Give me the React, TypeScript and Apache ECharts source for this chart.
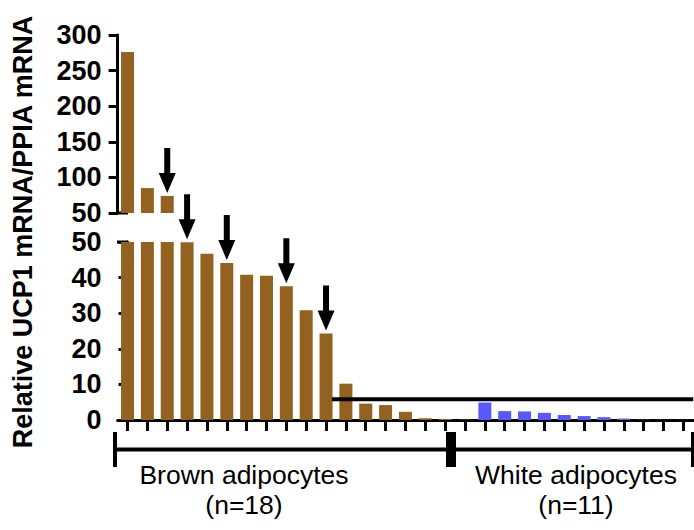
import React, { useEffect, useRef } from "react";
import * as echarts from "echarts";

// ---- data ----
const brownValues = [276, 85, 74, 49.9, 46.7, 44.1, 40.8, 40.5, 37.6, 30.8, 24.3, 10.2, 4.6, 4.2, 2.3, 0.5, 0.3, 0.1];
const whiteValues = [4.9, 2.5, 2.4, 2.0, 1.4, 1.1, 0.8, 0.4, 0.1, 0.05, 0.05];
const categories = [
  ...brownValues.map((_, i) => `B${i + 1}`),
  ...whiteValues.map((_, i) => `W${i + 1}`),
];
const upperRange = [50, 300];
const upperInterval = 50;
const lowerRange = [0, 50];
const lowerInterval = 10;
const arrowBars = [2, 3, 5, 8, 10];
const thresholdValue = 5.8;
const thresholdFrom = 10.3;
const thresholdTo = 28.5;
const groupLabels = ["Brown adipocytes\n(n=18)", "White adipocytes\n(n=11)"];
const yTitle = "Relative UCP1 mRNA/PPIA mRNA";

const BROWN = "#936220";
const BLUE = "#5858FF";
const FONT = '"Liberation Sans", Arial, sans-serif';

const ARROW = "path://M5.5,0L11.5,0L11.5,25L17,25L8.5,45L0,25L5.5,25Z";

export default function App() {
  const ref = useRef<HTMLDivElement>(null);
  useEffect(() => {
    if (!ref.current) return;
    const chart = echarts.init(ref.current, null, { renderer: "svg" });
    const allValues = [...brownValues, ...whiteValues];
    const colorOf = (i: number) => (i < brownValues.length ? BROWN : BLUE);
    const upperData = allValues.map((v, i) =>
      v > upperRange[0] ? { value: v, itemStyle: { color: colorOf(i) } } : "-"
    );
    const lowerData = allValues.map((v, i) => ({
      value: Math.min(v, lowerRange[1]),
      itemStyle: { color: colorOf(i) },
    }));
    const upperArrows = arrowBars
      .filter((i) => allValues[i] > upperRange[0])
      .map((i) => ({ coord: [categories[i], allValues[i]] }));
    const lowerArrows = arrowBars
      .filter((i) => allValues[i] <= upperRange[0])
      .map((i) => ({ coord: [categories[i], Math.min(allValues[i], lowerRange[1])] }));

    const markPointBase = {
      symbol: ARROW,
      symbolSize: [17, 45],
      symbolOffset: [0, -25.5],
      label: { show: false },
      itemStyle: { color: "#000" },
      silent: true,
    };

    const yAxisCommon = {
      type: "value",
      axisLine: { show: true, lineStyle: { color: "#000", width: 3 } },
      axisTick: { show: true, length: 9, lineStyle: { color: "#000", width: 3 } },
      splitLine: { show: false },
      axisLabel: {
        color: "#000",
        fontSize: 27,
        fontWeight: "bold",
        fontFamily: FONT,
        margin: 16,
      },
    };

    const left = 117.6;
    const width = 575.7;

    chart.setOption({
      animation: false,
      grid: [
        { left, width, top: 35, height: 178 },
        { left, width, top: 242, height: 178 },
      ],
      xAxis: [
        { type: "category", gridIndex: 0, data: categories, show: false },
        {
          type: "category",
          gridIndex: 1,
          data: categories,
          axisLine: { show: true, lineStyle: { color: "#000", width: 3 } },
          axisTick: {
            show: true,
            alignWithLabel: true,
            interval: 0,
            length: 11,
            lineStyle: { color: "#000", width: 3 },
          },
          axisLabel: { show: false },
        },
        {
          type: "value",
          gridIndex: 1,
          min: -0.5,
          max: categories.length - 0.5,
          show: false,
          position: "top",
        },
      ],
      yAxis: [
        { ...yAxisCommon, gridIndex: 0, min: upperRange[0], max: upperRange[1], interval: upperInterval },
        { ...yAxisCommon, gridIndex: 1, min: lowerRange[0], max: lowerRange[1], interval: lowerInterval },
      ],
      series: [
        {
          type: "bar",
          xAxisIndex: 0,
          yAxisIndex: 0,
          data: upperData,
          barWidth: 13,
          markPoint: { ...markPointBase, data: upperArrows },
        },
        {
          type: "bar",
          xAxisIndex: 1,
          yAxisIndex: 1,
          data: lowerData,
          barWidth: 13,
          markPoint: { ...markPointBase, data: lowerArrows },
        },
        {
          type: "line",
          xAxisIndex: 2,
          yAxisIndex: 1,
          data: [
            [thresholdFrom, thresholdValue],
            [thresholdTo, thresholdValue],
          ],
          symbol: "none",
          lineStyle: { color: "#000", width: 4 },
          silent: true,
        },
      ],
      graphic: [
        {
          type: "text",
          x: 23,
          y: 232,
          rotation: Math.PI / 2,
          style: {
            text: yTitle,
            fontSize: 27,
            fontWeight: "bold",
            fontFamily: FONT,
            fill: "#000",
            align: "center",
            verticalAlign: "middle",
          },
        },
        { type: "line", shape: { x1: 117, y1: 213, x2: 128, y2: 213 }, style: { stroke: "#000", lineWidth: 3 } },
        { type: "line", shape: { x1: 117, y1: 242, x2: 128, y2: 242 }, style: { stroke: "#000", lineWidth: 3 } },
        { type: "rect", shape: { x: 113, y: 447.5, width: 581, height: 4 }, style: { fill: "#000" } },
        { type: "rect", shape: { x: 113, y: 432, width: 4, height: 35 }, style: { fill: "#000" } },
        { type: "rect", shape: { x: 446, y: 432, width: 10, height: 35 }, style: { fill: "#000" } },
        { type: "rect", shape: { x: 691, y: 432, width: 4, height: 35 }, style: { fill: "#000" } },
        {
          type: "text",
          x: 244,
          y: 460,
          style: {
            text: groupLabels[0],
            fontSize: 26.5,
            fontFamily: FONT,
            fill: "#000",
            align: "center",
            verticalAlign: "top",
            lineHeight: 30,
          },
        },
        {
          type: "text",
          x: 576,
          y: 460,
          style: {
            text: groupLabels[1],
            fontSize: 26.5,
            fontFamily: FONT,
            fill: "#000",
            align: "center",
            verticalAlign: "top",
            lineHeight: 30,
          },
        },
      ],
    });
    return () => chart.dispose();
  }, []);
  return (
    <div
      ref={ref}
      style={{ position: "fixed", left: 0, top: 0, width: 694, height: 530, background: "#fff" }}
    />
  );
}
